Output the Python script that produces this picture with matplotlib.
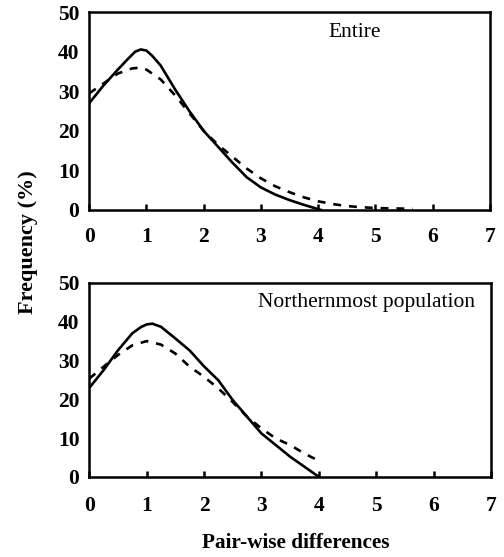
import matplotlib
matplotlib.use("Agg")
import matplotlib.pyplot as plt

plt.rcParams['font.family'] = ['Liberation Serif', 'DejaVu Serif']

# Entire
x_ent_obs = [0, 0.25, 0.5, 0.65, 0.8, 0.9, 1.0, 1.1, 1.25, 1.5, 1.75, 2.0, 2.25, 2.5, 2.75, 3.0, 3.25, 3.5, 3.75, 4.05]
y_ent_obs = [27, 31.5, 35.5, 37.8, 40, 40.6, 40.3, 39, 36.5, 30.5, 25, 20, 16, 12, 8.3, 5.7, 3.9, 2.5, 1.3, 0]
x_ent_exp = [0, 0.25, 0.5, 0.75, 0.9, 1.0, 1.25, 1.5, 1.75, 2.0, 2.25, 2.5, 2.75, 3.0, 3.25, 3.5, 3.75,
             4.0, 4.25, 4.5, 4.75, 5.0, 5.3, 5.65]
y_ent_exp = [29.5, 32, 34.5, 35.8, 36, 35.5, 33, 29, 24.5, 20, 16.5, 13.5, 10.5, 8, 6, 4.5, 3.2,
             2.2, 1.5, 1.0, 0.7, 0.5, 0.4, 0.3]

# Northernmost population
x_nor_obs = [0, 0.25, 0.5, 0.75, 0.9, 1.0, 1.1, 1.25, 1.5, 1.75, 2.0, 2.25, 2.5, 2.75, 3.0, 3.25, 3.5, 3.75, 4.0]
y_nor_obs = [22.9, 27.5, 32.6, 37, 38.6, 39.3, 39.5, 38.7, 35.7, 32.6, 28.5, 24.9, 19.8, 15.5, 11.2, 8.2, 5.2, 2.6, 0]
x_nor_exp = [0, 0.25, 0.5, 0.75, 1.0, 1.25, 1.5, 1.75, 2.0, 2.25, 2.5, 2.75, 3.0, 3.25, 3.5, 3.75, 3.95]
y_nor_exp = [25.3, 28.4, 31.4, 33.9, 35, 34.1, 31.8, 28.4, 25.8, 22.8, 19.3, 15.5, 12.5, 9.9, 8.2, 6, 4.5]

x_ticks = [0, 1, 2, 3, 4, 5, 6, 7]
y_ticks = [0, 10, 20, 30, 40, 50]

fig = plt.figure(figsize=(5.04, 5.57), dpi=100)
ax1 = fig.add_axes([0.177, 0.623, 0.795, 0.355])
ax2 = fig.add_axes([0.177, 0.144, 0.797, 0.348])

panels = [
    (ax1, x_ent_obs, y_ent_obs, x_ent_exp, y_ent_exp, 'Entire', 0.663, 0.90, 12),
    (ax2, x_nor_obs, y_nor_obs, x_nor_exp, y_nor_exp, 'Northernmost population', 0.69, 0.90, 14),
]
for ax, xo, yo, xe, ye, name, tx, ty, xpad in panels:
    ax.plot(xo, yo, color='black', lw=1.9, solid_joinstyle='round')
    ax.plot(xe, ye, color='black', lw=1.9, linestyle=(0, (3, 3)))
    ax.set_xlim(0, 7)
    ax.set_ylim(0, 50)
    ax.set_xticks(x_ticks)
    ax.set_yticks(y_ticks)
    for s in ax.spines.values():
        s.set_linewidth(1.8)
    ax.tick_params(axis='x', direction='in', length=4, width=1.8, pad=xpad, labelsize=15.5)
    ax.tick_params(axis='y', length=0, pad=7, labelsize=15.5)
    for lab in ax.get_xticklabels() + ax.get_yticklabels():
        lab.set_fontweight('bold')
    ax.text(tx, ty, name, transform=ax.transAxes, ha='center', va='center', fontsize=15.5)

fig.text(0.056, 0.566, 'Frequency (%)', rotation=90, ha='center', va='center',
         fontsize=16, fontweight='bold')
fig.text(0.587, 0.025, 'Pair-wise differences', ha='center', va='center',
         fontsize=15.3, fontweight='bold')

fig.savefig('out.png', dpi=100)
